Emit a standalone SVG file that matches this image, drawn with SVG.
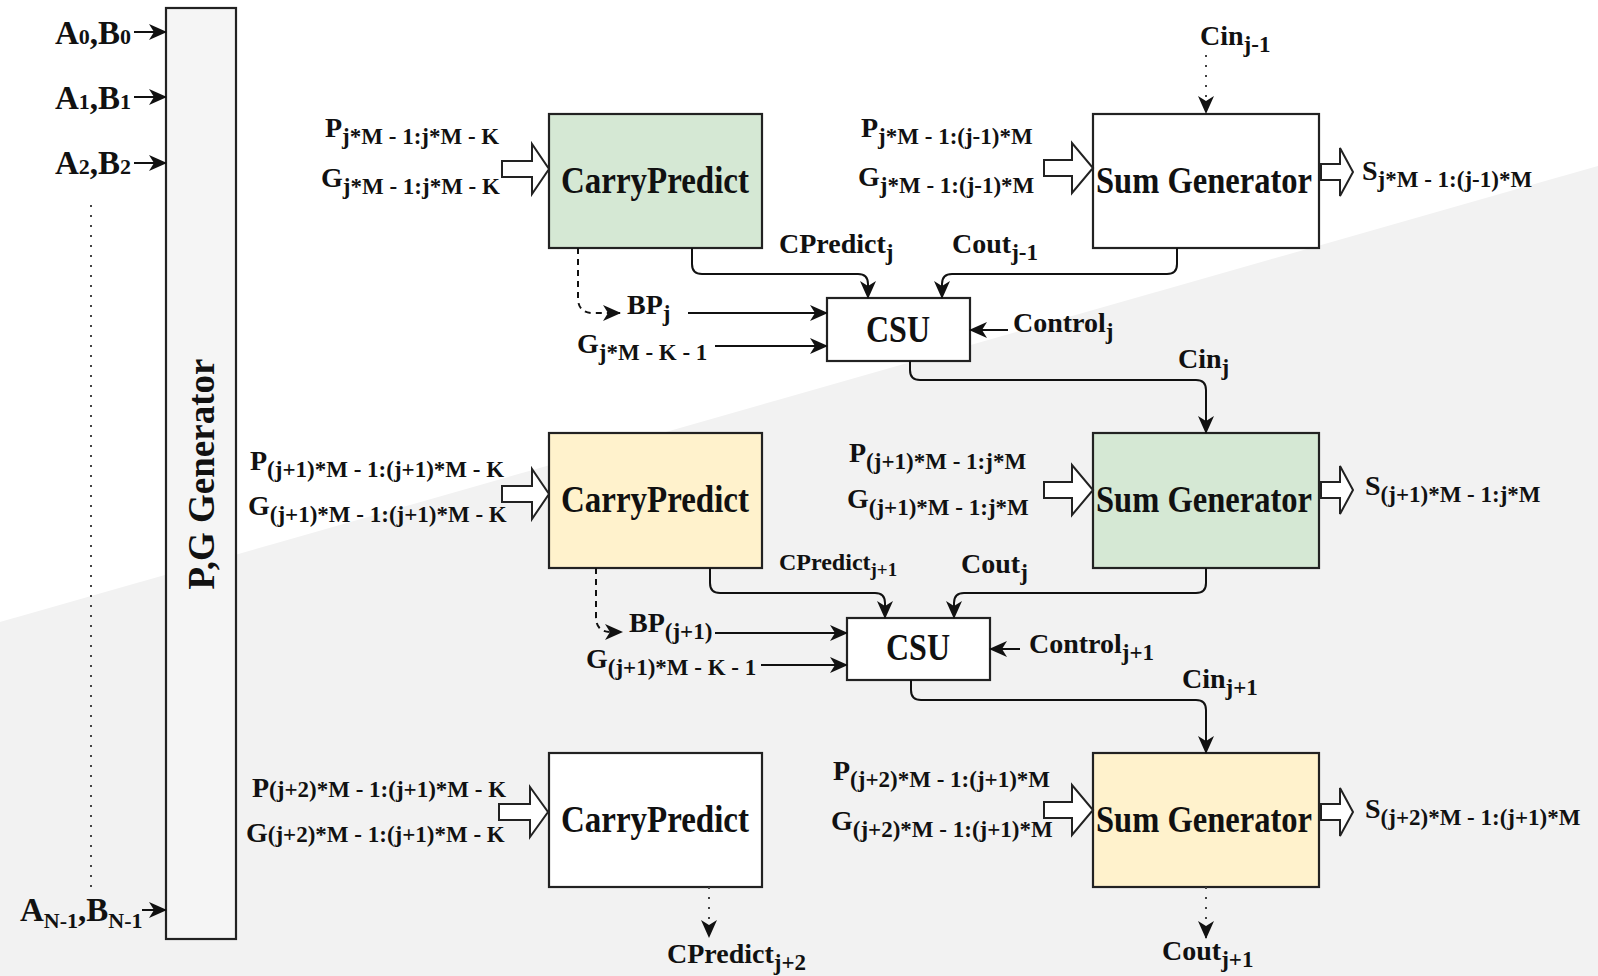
<svg xmlns="http://www.w3.org/2000/svg" width="1598" height="976" viewBox="0 0 1598 976">
<defs>
<style>
text{font-family:"Liberation Serif","Times New Roman",serif;font-weight:bold;fill:#111}
.lbl{font-size:28px;word-spacing:0px}
.sub{font-size:23px}
.big{font-size:38px}
.box{stroke:#222;stroke-width:2.2}
.ln{fill:none;stroke:#111;stroke-width:2}
.dash{fill:none;stroke:#111;stroke-width:2;stroke-dasharray:6 5}
.dot{fill:none;stroke:#444;stroke-width:2;stroke-dasharray:2 8}
.blk{fill:#fff;stroke:#222;stroke-width:2}
</style>
<marker id="arr" viewBox="0 0 18 16" refX="17" refY="8" markerWidth="18" markerHeight="16" markerUnits="userSpaceOnUse" orient="auto">
<path d="M0,0 L18,8 L0,16 L5,8 z" fill="#111"/>
</marker>
</defs>
<rect x="0" y="0" width="1598" height="976" fill="#fff"/>
<polygon points="0,622 1598,166 1598,976 0,976" fill="#f2f2f2"/>

<g id="pg-generator">
<rect class="box" x="166" y="8" width="70" height="931" fill="#f5f5f5" stroke="#333"/>
<text text-anchor="middle" transform="translate(214,474) rotate(-90)" style="font-size:37px">P,G Generator</text>
</g>

<g id="inputs">
<text text-anchor="end" x="131" y="44" style="font-size:33px">A<tspan style="font-size:22px">0</tspan>,B<tspan style="font-size:22px">0</tspan></text>
<text text-anchor="end" x="131" y="109" style="font-size:33px">A<tspan style="font-size:22px">1</tspan>,B<tspan style="font-size:22px">1</tspan></text>
<text text-anchor="end" x="131" y="174" style="font-size:33px">A<tspan style="font-size:22px">2</tspan>,B<tspan style="font-size:22px">2</tspan></text>
<text x="20" y="921" style="font-size:33px">A<tspan dy="7" style="font-size:22px">N-1</tspan><tspan dy="-7">,B</tspan><tspan dy="7" style="font-size:22px">N-1</tspan></text>
</g>

<g id="cp1"><rect class="box" x="549" y="114" width="213" height="134" fill="#d5e8d4"/>
<text class="big" x="561" y="193" textLength="188" lengthAdjust="spacingAndGlyphs">CarryPredict</text></g>
<g id="sg1"><rect class="box" x="1093" y="114" width="226" height="134" fill="#ffffff"/>
<text class="big" x="1096" y="193" textLength="216" lengthAdjust="spacingAndGlyphs">Sum Generator</text></g>
<g id="csu1"><rect class="box" x="827" y="298" width="143" height="63" fill="#ffffff"/>
<text class="big" x="866" y="342" textLength="64" lengthAdjust="spacingAndGlyphs">CSU</text></g>

<g id="cp2"><rect class="box" x="549" y="433" width="213" height="135" fill="#fff2cc"/>
<text class="big" x="561" y="512" textLength="188" lengthAdjust="spacingAndGlyphs">CarryPredict</text></g>
<g id="sg2"><rect class="box" x="1093" y="433" width="226" height="135" fill="#d5e8d4"/>
<text class="big" x="1096" y="512" textLength="216" lengthAdjust="spacingAndGlyphs">Sum Generator</text></g>
<g id="csu2"><rect class="box" x="847" y="618" width="143" height="62" fill="#ffffff"/>
<text class="big" x="886" y="660" textLength="64" lengthAdjust="spacingAndGlyphs">CSU</text></g>

<g id="cp3"><rect class="box" x="549" y="753" width="213" height="134" fill="#ffffff"/>
<text class="big" x="561" y="832" textLength="188" lengthAdjust="spacingAndGlyphs">CarryPredict</text></g>
<g id="sg3"><rect class="box" x="1093" y="753" width="226" height="134" fill="#fff2cc"/>
<text class="big" x="1096" y="832" textLength="216" lengthAdjust="spacingAndGlyphs">Sum Generator</text></g>

<g id="connectors">
<line class="ln" x1="134" y1="32" x2="166" y2="32" marker-end="url(#arr)"/>
<line class="ln" x1="134" y1="97" x2="166" y2="97" marker-end="url(#arr)"/>
<line class="ln" x1="134" y1="163" x2="166" y2="163" marker-end="url(#arr)"/>
<line class="ln" x1="142" y1="910" x2="166" y2="910" marker-end="url(#arr)"/>
<line class="dot" x1="91" y1="205" x2="91" y2="895" stroke="#666"/>

<polygon class="blk" points="502,161 532,161 532,144 549,169 532,194 532,177 502,177"/>
<polygon class="blk" points="1044,160 1072,160 1072,143 1093,168 1072,193 1072,176 1044,176"/>
<polygon class="blk" points="1321,164 1340,164 1340,148 1353,172 1340,196 1340,180 1321,180"/>
<polygon class="blk" points="502,486 532,486 532,469 549,494 532,519 532,502 502,502"/>
<polygon class="blk" points="1044,482 1072,482 1072,465 1093,490 1072,515 1072,498 1044,498"/>
<polygon class="blk" points="1321,482 1340,482 1340,466 1353,490 1340,514 1340,498 1321,498"/>
<polygon class="blk" points="499,804 530,804 530,787 548,812 530,837 530,820 499,820"/>
<polygon class="blk" points="1044,802 1072,802 1072,785 1093,810 1072,835 1072,818 1044,818"/>
<polygon class="blk" points="1321,804 1340,804 1340,788 1353,812 1340,836 1340,820 1321,820"/>

<path class="dot" d="M1206,55 V113" marker-end="url(#arr)"/>
<path class="ln" d="M692,248 V264 Q692,274 702,274 H858 Q868,274 868,284 V298" marker-end="url(#arr)"/>
<path class="ln" d="M1177,248 V264 Q1177,274 1167,274 H952 Q942,274 942,284 V298" marker-end="url(#arr)"/>
<path class="dash" d="M578,248 V298 Q578,313 593,313 H620" marker-end="url(#arr)"/>
<line class="ln" x1="688" y1="313" x2="827" y2="313" marker-end="url(#arr)"/>
<line class="ln" x1="715" y1="346" x2="827" y2="346" marker-end="url(#arr)"/>
<line class="ln" x1="1008" y1="330" x2="970" y2="330" marker-end="url(#arr)"/>
<path class="ln" d="M910,361 V370 Q910,380 920,380 H1196 Q1206,380 1206,390 V433" marker-end="url(#arr)"/>

<path class="ln" d="M710,568 V583 Q710,593 720,593 H875 Q885,593 885,603 V618" marker-end="url(#arr)"/>
<path class="ln" d="M1206,568 V583 Q1206,593 1196,593 H964 Q954,593 954,603 V618" marker-end="url(#arr)"/>
<path class="dash" d="M596,568 V617 Q596,632 611,632 H622" marker-end="url(#arr)"/>
<line class="ln" x1="715" y1="633" x2="847" y2="633" marker-end="url(#arr)"/>
<line class="ln" x1="761" y1="665" x2="847" y2="665" marker-end="url(#arr)"/>
<line class="ln" x1="1020" y1="649" x2="990" y2="649" marker-end="url(#arr)"/>
<path class="ln" d="M911,680 V690 Q911,700 921,700 H1196 Q1206,700 1206,710 V753" marker-end="url(#arr)"/>

<path class="dot" d="M709,887 V937" marker-end="url(#arr)"/>
<path class="dot" d="M1206,887 V938" marker-end="url(#arr)"/>
</g>

<g id="labels">
<text class="lbl" x="325" y="137">P<tspan class="sub" dy="7">j*M - 1:j*M - K</tspan></text>
<text class="lbl" x="321" y="187">G<tspan class="sub" dy="7">j*M - 1:j*M - K</tspan></text>
<text class="lbl" x="861" y="137">P<tspan class="sub" dy="7">j*M - 1:(j-1)*M</tspan></text>
<text class="lbl" x="858" y="186">G<tspan class="sub" dy="7">j*M - 1:(j-1)*M</tspan></text>
<text class="lbl" x="1362" y="180">S<tspan class="sub" dy="7">j*M - 1:(j-1)*M</tspan></text>
<text class="lbl" x="1200" y="45">Cin<tspan class="sub" dy="7">j-1</tspan></text>
<text class="lbl" x="779" y="253">CPredict<tspan class="sub" dy="7">j</tspan></text>
<text class="lbl" x="952" y="253">Cout<tspan class="sub" dy="7">j-1</tspan></text>
<text class="lbl" x="627" y="314">BP<tspan class="sub" dy="7">j</tspan></text>
<text class="lbl" x="577" y="353">G<tspan class="sub" dy="7">j*M - K - 1</tspan></text>
<text class="lbl" x="1013" y="332">Control<tspan class="sub" dy="7">j</tspan></text>
<text class="lbl" x="1178" y="368">Cin<tspan class="sub" dy="7">j</tspan></text>

<text class="lbl" x="250" y="470">P<tspan class="sub" dy="7">(j+1)*M - 1:(j+1)*M - K</tspan></text>
<text class="lbl" x="248" y="515">G<tspan class="sub" dy="7">(j+1)*M - 1:(j+1)*M - K</tspan></text>
<text class="lbl" x="849" y="462">P<tspan class="sub" dy="7">(j+1)*M - 1:j*M</tspan></text>
<text class="lbl" x="847" y="508">G<tspan class="sub" dy="7">(j+1)*M - 1:j*M</tspan></text>
<text class="lbl" x="1365" y="495">S<tspan class="sub" dy="7">(j+1)*M - 1:j*M</tspan></text>
<text class="lbl" x="779" y="570" style="font-size:24px">CPredict<tspan style="font-size:19px" dy="6">j+1</tspan></text>
<text class="lbl" x="961" y="573">Cout<tspan class="sub" dy="7">j</tspan></text>
<text class="lbl" x="629" y="632">BP<tspan class="sub" dy="7">(j+1)</tspan></text>
<text class="lbl" x="586" y="668">G<tspan class="sub" dy="7">(j+1)*M - K - 1</tspan></text>
<text class="lbl" x="1029" y="653">Control<tspan class="sub" dy="7">j+1</tspan></text>
<text class="lbl" x="1182" y="688">Cin<tspan class="sub" dy="7">j+1</tspan></text>

<text class="lbl" x="252" y="797">P<tspan style="font-size:23px">(j+2)*M - 1:(j+1)*M - K</tspan></text>
<text class="lbl" x="246" y="842">G<tspan style="font-size:23px">(j+2)*M - 1:(j+1)*M - K</tspan></text>
<text class="lbl" x="833" y="780">P<tspan class="sub" dy="7">(j+2)*M - 1:(j+1)*M</tspan></text>
<text class="lbl" x="831" y="830">G<tspan class="sub" dy="7">(j+2)*M - 1:(j+1)*M</tspan></text>
<text class="lbl" x="1365" y="818">S<tspan class="sub" dy="7">(j+2)*M - 1:(j+1)*M</tspan></text>
<text class="lbl" x="667" y="963">CPredict<tspan class="sub" dy="7">j+2</tspan></text>
<text class="lbl" x="1162" y="960">Cout<tspan class="sub" dy="7">j+1</tspan></text>
</g>
</svg>
